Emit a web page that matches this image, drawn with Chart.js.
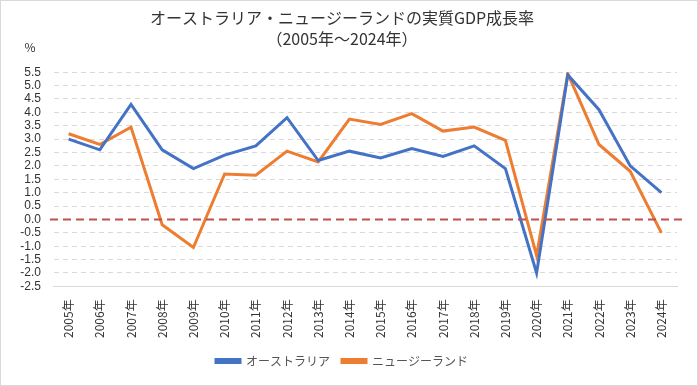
<!DOCTYPE html>
<html>
<head>
<meta charset="utf-8">
<script src="https://cdn.jsdelivr.net/npm/chart.js@4"></script>
<style>
  html, body { margin: 0; padding: 0; background: #fff; }
  #wrap { position: relative; width: 696px; height: 384px; border: 1px solid #d9d9d9; }
</style>
</head>
<body>
<div id="wrap"><canvas id="gdpChart" width="696" height="384"></canvas></div>
<script>
var years = ['2005年','2006年','2007年','2008年','2009年','2010年','2011年','2012年','2013年','2014年',
             '2015年','2016年','2017年','2018年','2019年','2020年','2021年','2022年','2023年','2024年'];
var australia = [3.0, 2.6, 4.3, 2.6, 1.9, 2.4, 2.75, 3.8, 2.2, 2.55, 2.3, 2.65, 2.35, 2.75, 1.9, -2.0, 5.4, 4.1, 2.0, 1.0];
var newZealand = [3.2, 2.8, 3.45, -0.2, -1.05, 1.7, 1.65, 2.55, 2.15, 3.75, 3.55, 3.95, 3.3, 3.45, 2.95, -1.35, 5.45, 2.8, 1.8, -0.5];

var jpFont = '"Noto Sans CJK JP", "Noto Sans", sans-serif';

// red dashed zero line + "%" unit label
var zeroLine = {
    id: 'zeroLine',
    afterDatasetsDraw: function(chart) {
        var ctx = chart.ctx, y = chart.scales.y.getPixelForValue(0), a = chart.chartArea;
        ctx.save();
        ctx.strokeStyle = '#c0504d';
        ctx.lineWidth = 2;
        ctx.setLineDash([8, 5]);
        ctx.beginPath();
        ctx.moveTo(a.left - 3, y);
        ctx.lineTo(a.right + 10, y);
        ctx.stroke();
        ctx.restore();
    },
    afterDraw: function(chart) {
        var ctx = chart.ctx;
        ctx.save();
        ctx.fillStyle = '#333';
        ctx.font = '12px ' + jpFont;
        ctx.textAlign = 'center';
        ctx.textBaseline = 'middle';
        ctx.fillText('%', 29, 46);
        ctx.restore();
    }
};

new Chart(document.getElementById('gdpChart'), {
    type: 'line',
    data: {
        labels: years,
        datasets: [
            { label: 'オーストラリア', data: australia, borderColor: '#4472c4', backgroundColor: '#4472c4', borderWidth: 3, pointRadius: 0, tension: 0 },
            { label: 'ニュージーランド', data: newZealand, borderColor: '#ed7d31', backgroundColor: '#ed7d31', borderWidth: 3, pointRadius: 0, tension: 0 }
        ]
    },
    plugins: [zeroLine],
    options: {
        responsive: false,
        animation: false,
        layout: { padding: { left: 6, right: 20, top: 4, bottom: 8 } },
        plugins: {
            title: {
                display: true,
                text: ['オーストラリア・ニュージーランドの実質GDP成長率', '（2005年～2024年）'],
                color: '#333',
                font: { family: jpFont, size: 16, weight: 'normal', lineHeight: 1.35 },
                padding: { top: 2, bottom: 22 }
            },
            legend: {
                position: 'bottom',
                labels: { color: '#555', font: { family: jpFont, size: 12 }, boxWidth: 24, boxHeight: 3, padding: 12 }
            },
            tooltip: { enabled: false }
        },
        scales: {
            x: {
                offset: true,
                grid: { display: false },
                border: { display: true, color: '#d9d9d9', width: 1 },
                ticks: { color: '#333', font: { family: jpFont, size: 12 }, minRotation: 90, maxRotation: 90, padding: 5 }
            },
            y: {
                min: -2.5,
                max: 5.5,
                border: { display: true, color: 'rgba(0,0,0,0)', dash: [5, 4] },
                grid: {
                    color: function(c) { return (c.tick && (c.tick.value === 0 || c.tick.value === -2.5)) ? 'rgba(0,0,0,0)' : '#d9d9d9'; },
                    drawTicks: false
                },
                afterFit: function(s) { s.width = 46; },
                ticks: {
                    stepSize: 0.5,
                    autoSkip: false,
                    color: '#333',
                    font: { family: 'Liberation Sans, Arial, sans-serif', size: 12 },
                    padding: 12,
                    callback: function(v) { return v.toFixed(1); }
                }
            }
        }
    }
});
</script>
</body>
</html>
